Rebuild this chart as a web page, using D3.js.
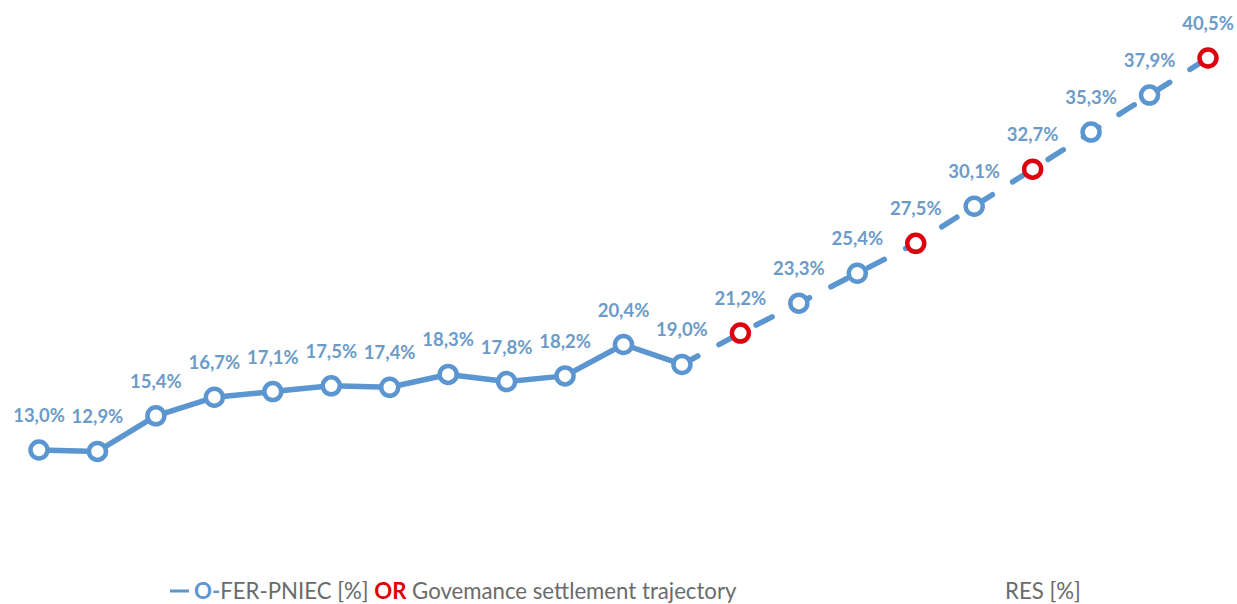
<!DOCTYPE html>
<html>
<head>
<meta charset="utf-8">
<script src="https://cdn.jsdelivr.net/npm/d3@7"></script>
<style>
  html, body { margin: 0; padding: 0; background: #fff; }
  svg { display: block; }
</style>
</head>
<body>
<svg id="chart" width="1237" height="604"></svg>
<script>
// Renewable share (RES) trajectory, historical + PNIEC target path
const years = [2010, 2011, 2012, 2013, 2014, 2015, 2016, 2017, 2018, 2019, 2020,
               2021, 2022, 2023, 2024, 2025, 2026, 2027, 2028, 2029, 2030];
const resShare = [13.0, 12.9, 15.4, 16.7, 17.1, 17.5, 17.4, 18.3, 17.8, 18.2, 20.4,
                  19.0, 21.2, 23.3, 25.4, 27.5, 30.1, 32.7, 35.3, 37.9, 40.5];
// Last year of observed data; later points are the planned trajectory
const lastObservedYear = 2021;
// Years with a Governance-regulation reference point
const governanceYears = [2022, 2025, 2027, 2030];

const svg = d3.select("#chart");
const blue = "#5b96d0";
const labelBlue = "#6c9bc8";
const red = "#df000f";

const x = d3.scalePoint().domain(years).range([39, 1208]);
const y = d3.scaleLinear().domain([13, 40.5]).range([450, 58]);

const data = years.map((yr, i) => ({ year: yr, value: resShare[i] }));
const observed = data.filter(d => d.year <= lastObservedYear);
const planned = data.filter(d => d.year >= lastObservedYear);

const line = d3.line().x(d => x(d.year)).y(d => y(d.value));

// solid historical line
svg.append("path")
  .datum(observed)
  .attr("d", line)
  .attr("fill", "none")
  .attr("stroke", blue)
  .attr("stroke-width", 5.5)
  .attr("stroke-linejoin", "round");

// dashed planned trajectory
svg.append("path")
  .datum(planned)
  .attr("d", line)
  .attr("fill", "none")
  .attr("stroke", blue)
  .attr("stroke-width", 5.5)
  .attr("stroke-linecap", "round")
  .attr("stroke-dasharray", "18,24");

// markers
svg.append("g").selectAll("circle")
  .data(data)
  .join("circle")
  .attr("cx", d => x(d.year))
  .attr("cy", d => y(d.value))
  .attr("r", 8.5)
  .attr("fill", "#fff")
  .attr("stroke", d => governanceYears.includes(d.year) ? red : blue)
  .attr("stroke-width", 4.5);

// value labels
const fmt = v => v.toFixed(1).replace(".", ",") + "%";
svg.append("g").selectAll("text")
  .data(data)
  .join("text")
  .attr("x", d => x(d.year))
  .attr("y", d => y(d.value) - 28)
  .attr("text-anchor", "middle")
  .attr("font-family", "Lato, 'Open Sans', sans-serif")
  .attr("font-weight", 700)
  .attr("font-size", 18.5)
  .attr("fill", labelBlue)
  .text(d => fmt(d.value));

// legend
const legendFont = "Lato, 'Open Sans', sans-serif";
const legendSize = 22.2;
svg.append("line")
  .attr("x1", 170).attr("x2", 189)
  .attr("y1", 591).attr("y2", 591)
  .attr("stroke", blue)
  .attr("stroke-width", 3);

const legend = svg.append("text")
  .attr("x", 194)
  .attr("y", 599)
  .attr("font-family", legendFont)
  .attr("font-size", legendSize)
  .attr("fill", "#6b6b6b");
legend.append("tspan").attr("fill", blue).attr("font-weight", 700).text("O-");
legend.append("tspan").text("FER-PNIEC [%] ");
legend.append("tspan").attr("fill", "#e00000").attr("font-weight", 700).text("OR");
legend.append("tspan").text(" Govemance settlement trajectory");

svg.append("text")
  .attr("x", 1005)
  .attr("y", 599)
  .attr("font-family", legendFont)
  .attr("font-size", legendSize)
  .attr("fill", "#6b6b6b")
  .text("RES [%]");
</script>
</body>
</html>
